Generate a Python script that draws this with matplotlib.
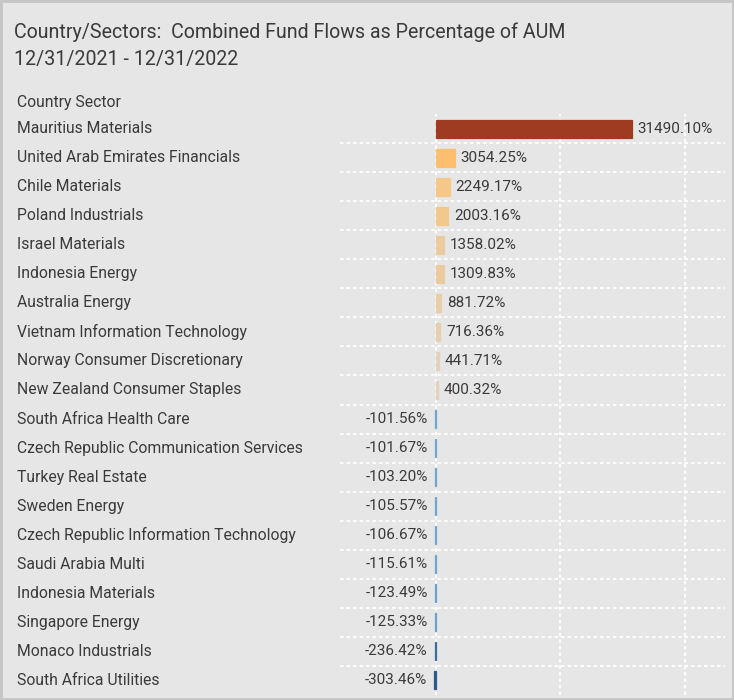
import matplotlib.pyplot as plt
import matplotlib.transforms as mtransforms
from matplotlib.patches import Rectangle

plt.rcParams['font.family'] = ['Liberation Sans Narrow', 'Roboto', 'DejaVu Sans']

# fund flows as % of AUM, 12/31/2021 - 12/31/2022
sectors = [
    "Mauritius Materials",
    "United Arab Emirates Financials",
    "Chile Materials",
    "Poland Industrials",
    "Israel Materials",
    "Indonesia Energy",
    "Australia Energy",
    "Vietnam Information Technology",
    "Norway Consumer Discretionary",
    "New Zealand Consumer Staples",
    "South Africa Health Care",
    "Czech Republic Communication Services",
    "Turkey Real Estate",
    "Sweden Energy",
    "Czech Republic Information Technology",
    "Saudi Arabia Multi",
    "Indonesia Materials",
    "Singapore Energy",
    "Monaco Industrials",
    "South Africa Utilities",
]
flows = [31490.10, 3054.25, 2249.17, 2003.16, 1358.02, 1309.83, 881.72, 716.36,
         441.71, 400.32, -101.56, -101.67, -103.20, -105.57, -106.67, -115.61,
         -123.49, -125.33, -236.42, -303.46]

bar_colors = ["#9e3b20", "#fdbf6f", "#f5c788", "#f3c88c", "#ebcca0", "#eacba0",
              "#e7cea9", "#e6cfae", "#e3d2bb", "#e2d3bd",
              "#6ba7d0", "#6ba7d0", "#6ba7d0", "#6ba7d0", "#6ba7d0", "#6ba7d0",
              "#67a3cd", "#67a3cd", "#3b6ea0", "#2e5a8d"]

bg = "#e6e6e6"
text_col = "#3a3a3a"

fig = plt.figure(figsize=(7.34, 7.0), dpi=100, facecolor=bg)
W, H = 734, 700
fig.patches.append(Rectangle((0, 0), 1, 1, transform=fig.transFigure,
                             fill=False, edgecolor="#c6c6c6", linewidth=3.5))

# axes box in pixels: x 340..725, y 114..695
ax = fig.add_axes([340 / W, 1 - 695 / H, 385 / W, 581 / H])
ax.set_facecolor(bg)

n = len(sectors)
ypos = list(range(n))
ax.barh(ypos, flows, height=0.62, color=bar_colors, edgecolor=bar_colors,
        linewidth=0.9, zorder=3)

ax.set_xlim(-15420, 46430)
ax.set_ylim(n - 0.5, -0.5)

# dotted white grid
for x in [0, 20000, 40000]:
    ax.axvline(x, color="white", linestyle=(0, (2, 1.6)), linewidth=1.3, zorder=1)
for i in range(n - 1):
    ax.axhline(i + 0.5, color="white", linestyle=(0, (2, 1.6)), linewidth=1.3, zorder=1)

for s in ax.spines.values():
    s.set_visible(False)
ax.set_xticks([])
ax.set_yticks([])

# value labels
for i, v in enumerate(flows):
    if v >= 0:
        ax.annotate(f"{v:.2f}%", (v, i), xytext=(4, 0), textcoords="offset points",
                    ha="left", va="center", fontsize=11, color=text_col)
    else:
        ax.annotate(f"{v:.2f}%", (v, i), xytext=(-5, 0), textcoords="offset points",
                    ha="right", va="center", fontsize=11, color=text_col)

# row labels on the left of the figure
trans = mtransforms.blended_transform_factory(fig.transFigure, ax.transData)
for i, name in enumerate(sectors):
    ax.text(17 / W, i, name, transform=trans, ha="left", va="center",
            fontsize=11.3, color=text_col, clip_on=False)
ax.text(17 / W, -0.88, "Country Sector", transform=trans, ha="left", va="center",
        fontsize=11.3, color=text_col, clip_on=False)

fig.text(14 / W, 1 - 32 / H, "Country/Sectors:  Combined Fund Flows as Percentage of AUM",
         ha="left", va="center", fontsize=14.1, color=text_col)
fig.text(14 / W, 1 - 59 / H, "12/31/2021 - 12/31/2022",
         ha="left", va="center", fontsize=14.1, color=text_col)

fig.savefig("out.png", dpi=100, facecolor=bg)
